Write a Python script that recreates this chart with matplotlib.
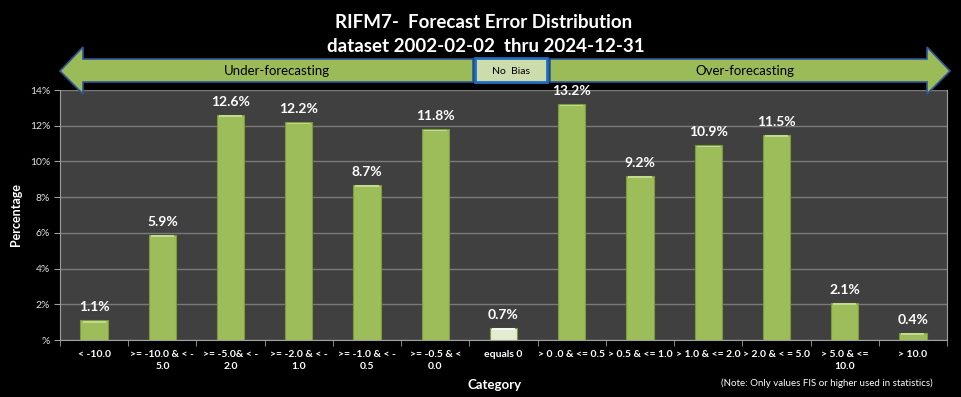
import matplotlib.pyplot as plt
from matplotlib.patches import Polygon, Rectangle
from matplotlib.ticker import FuncFormatter

plt.rcParams['font.family'] = ['Lato', 'DejaVu Sans']

# data
categories = ['< -10.0', '>= -10.0 & < -\n5.0', '>= -5.0& < -\n2.0', '>= -2.0 & < -\n1.0',
              '>= -1.0 & < -\n0.5', '>= -0.5 & <\n0.0', 'equals 0', '> 0 .0 & <= 0.5',
              '> 0.5 & <= 1.0', '> 1.0 & <= 2.0', '> 2.0 & < = 5.0', '> 5.0 & <=\n10.0', '> 10.0']
values = [1.1, 5.9, 12.6, 12.2, 8.7, 11.8, 0.7, 13.2, 9.2, 10.9, 11.5, 2.1, 0.4]
yticks = [0, 2, 4, 6, 8, 10, 12, 14]

W, H = 961, 397
fig = plt.figure(figsize=(W / 100, H / 100), dpi=100, facecolor='black')
ax = fig.add_axes([60 / W, 1 - 340 / H, (947 - 60) / W, (340 - 90) / H])
ax.set_facecolor('#404040')

x = list(range(len(values)))
green = '#9dbd5a'
cols = ['#e4ebd3' if c == 'equals 0' else green for c in categories]
bars = ax.bar(x, values, width=0.4, color=cols, edgecolor='#7b9a3c', linewidth=0.8, zorder=3)
# light highlight on top of each bar
for b, c in zip(bars, cols):
    hl = '#f6f9ee' if c != green else '#c3d98e'
    ax.add_patch(Rectangle((b.get_x() + 0.03, b.get_height() - 0.12), b.get_width() - 0.06, 0.1,
                           color=hl, zorder=4, lw=0))
for xi, v in zip(x, values):
    ax.annotate(f'{v:.1f}%', (xi, v), xytext=(0, 5), textcoords='offset points',
                ha='center', va='bottom', color='white', fontsize=10, fontweight='bold')

ax.set_xlim(-0.5, len(values) - 0.5)
ax.set_ylim(0, 14)
ax.set_yticks(yticks)
ax.yaxis.set_major_formatter(FuncFormatter(lambda v, p: '%' if v == 0 else f'{v:.0f}%'))
ax.grid(axis='y', color='#7a7a7a', linewidth=1, zorder=0)
ax.set_xticks(x)
ax.set_xticklabels(categories, fontsize=7.5, color='white', fontweight='bold', linespacing=1.45)
ax.set_xticks([i + 0.5 for i in range(-1, len(values))], minor=True)
ax.tick_params(axis='x', which='major', length=0, pad=7)
ax.tick_params(axis='x', which='minor', length=4, color='#a0a0a0', direction='out')
ax.tick_params(axis='y', labelsize=7.5, colors='#e0e0e0', length=4, pad=3)
ax.tick_params(axis='y', color='#a0a0a0')
ax.spines['top'].set_visible(False)
for s in ['left', 'bottom', 'right']:
    ax.spines[s].set_color('#a0a0a0')

ax.set_ylabel('Percentage', color='white', fontsize=9, fontweight='bold', labelpad=6)
fig.text(495 / W, 1 - 385 / H, 'Category', color='white', fontsize=9.5, fontweight='bold',
         ha='center', va='center')
fig.text(827 / W, 1 - 383 / H, '(Note: Only values FIS or higher used in statistics)',
         color='white', fontsize=7, ha='center', va='center')

fig.text(484 / W, 1 - 22 / H, 'RIFM7-  Forecast Error Distribution', color='white',
         fontsize=13.5, fontweight='bold', ha='center', va='center')
fig.text(486 / W, 1 - 46 / H, 'dataset 2002-02-02  thru 2024-12-31', color='white',
         fontsize=13.5, fontweight='bold', ha='center', va='center')


def px(pts):
    return [(a / W, 1 - b / H) for a, b in pts]


left_arrow = [(60, 71), (83, 47), (83, 59), (473, 59), (473, 82), (83, 82), (83, 94)]
right_arrow = [(550, 59), (927, 59), (927, 47), (950, 71), (927, 94), (927, 82), (550, 82)]
for pts in (left_arrow, right_arrow):
    fig.add_artist(Polygon(px(pts), closed=True, transform=fig.transFigure,
                           facecolor='#9bbb59', edgecolor='#2f5597', linewidth=1.2))
fig.add_artist(Polygon(px([(475, 58), (547, 58), (547, 82), (475, 82)]), closed=True,
                       transform=fig.transFigure, facecolor='#cddcac', edgecolor='#1f6fbf',
                       linewidth=2))
fig.text(277 / W, 1 - 71 / H, 'Under-forecasting', fontsize=9.5, ha='center', va='center')
fig.text(511 / W, 1 - 71 / H, 'No  Bias', fontsize=7.5, ha='center', va='center')
fig.text(745 / W, 1 - 71 / H, 'Over-forecasting', fontsize=9.5, ha='center', va='center')

fig.savefig('out.png', dpi=100, facecolor='black')
